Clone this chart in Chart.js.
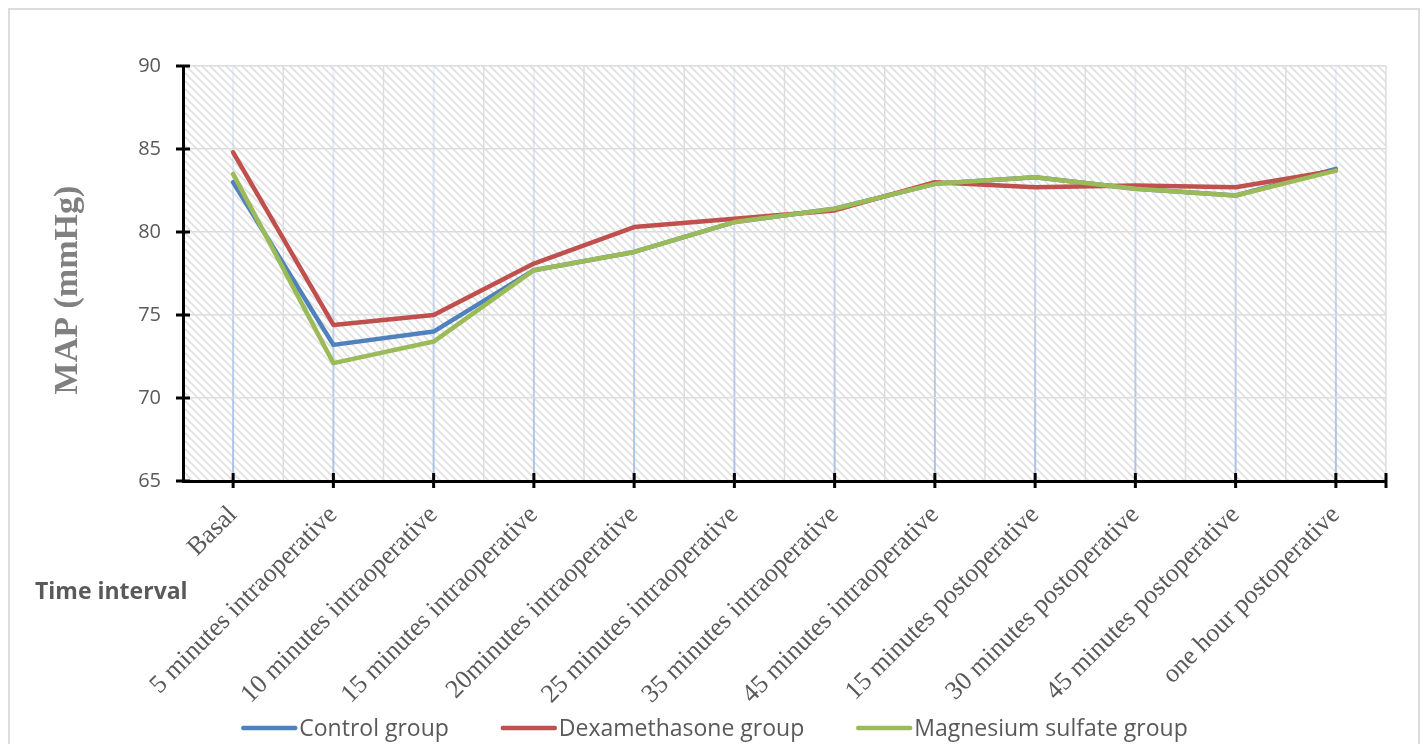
<!DOCTYPE html>
<html>
<head>
<meta charset="utf-8">
<script src="https://cdn.jsdelivr.net/npm/chart.js@4"></script>
<style>
  html, body { margin: 0; padding: 0; background: #fff; overflow: hidden; }
  #wrap { position: relative; width: 1425px; height: 744px; overflow: hidden; }
  #frame { position: absolute; left: 8px; top: 8px; width: 1412px; height: 780px; border: 2px solid #dcdcdc; box-sizing: border-box; }
  #box { position: absolute; left: 0; top: 0; width: 1425px; height: 744px; }
</style>
</head>
<body>
<div id="wrap">
  <div id="frame"></div>
  <div id="box"><canvas id="c" width="1425" height="744"></canvas></div>
</div>
<script>
// Mean arterial pressure by time interval
const categories = [
  'Basal',
  '5 minutes intraoperative',
  '10 minutes intraoperative',
  '15 minutes intraoperative',
  '20minutes intraoperative',
  '25 minutes intraoperative',
  '35 minutes intraoperative',
  '45 minutes intraoperative',
  '15 minutes postoperative',
  '30 minutes postoperative',
  '45 minutes postoperative',
  'one hour postoperative'
];
const controlGroup = [83.0, 73.2, 74.0, 77.7, 78.8, 80.6, 81.4, 82.9, 83.3, 82.6, 82.2, 83.8];
const dexamethasoneGroup = [84.8, 74.4, 75.0, 78.1, 80.3, 80.8, 81.3, 83.0, 82.7, 82.8, 82.7, 83.7];
const magnesiumGroup = [83.5, 72.1, 73.4, 77.7, 78.8, 80.6, 81.4, 82.9, 83.3, 82.6, 82.2, 83.7];
const yMin = 65, yMax = 90, yStep = 5;

const seriesNames = ['Control group', 'Dexamethasone group', 'Magnesium sulfate group'];
const seriesColors = ['#4f81bd', '#c0504d', '#9bbb59'];
const yTitle = 'MAP (mmHg)';
const xTitle = 'Time interval';

// Diagonal hatch tile for the plot background
function hatchPattern(ctx) {
  const t = document.createElement('canvas');
  t.width = 8; t.height = 8;
  const g = t.getContext('2d');
  g.fillStyle = '#ffffff';
  g.fillRect(0, 0, 8, 8);
  g.strokeStyle = '#e0e0e0';
  g.lineWidth = 1.7;
  for (let k = -1; k <= 1; k++) {
    g.beginPath();
    g.moveTo(-1, 8 * k - 1);
    g.lineTo(9, 8 * k + 9);
    g.stroke();
  }
  return ctx.createPattern(t, 'repeat');
}

const plotDecor = {
  id: 'plotDecor',
  beforeDraw(chart) {
    const { ctx, chartArea: a, scales: { x } } = chart;
    ctx.save();
    ctx.fillStyle = hatchPattern(ctx);
    ctx.fillRect(a.left, a.top, a.right - a.left, a.bottom - a.top);
    // light grey separators between categories
    ctx.strokeStyle = '#dddddd';
    ctx.lineWidth = 1.5;
    for (let i = 0; i <= categories.length; i++) {
      const px = x.getPixelForValue(i - 0.5);
      ctx.beginPath();
      ctx.moveTo(px, a.top);
      ctx.lineTo(px, a.bottom);
      ctx.stroke();
    }
    // blue drop lines at each category, fading toward the top
    const grad = ctx.createLinearGradient(0, a.top, 0, a.bottom);
    grad.addColorStop(0, 'rgba(180,199,231,0.25)');
    grad.addColorStop(1, 'rgba(170,192,228,1)');
    ctx.strokeStyle = grad;
    ctx.lineWidth = 2;
    categories.forEach((_, i) => {
      const px = x.getPixelForValue(i);
      ctx.beginPath();
      ctx.moveTo(px, a.top);
      ctx.lineTo(px, a.bottom);
      ctx.stroke();
    });
    ctx.restore();
  },
  afterDraw(chart) {
    const { ctx, chartArea: a, scales: { x, y } } = chart;
    ctx.save();
    ctx.strokeStyle = '#000';
    ctx.lineWidth = 3;
    // crossing tick marks on the value axis
    for (let v = yMin; v <= yMax; v += yStep) {
      const py = y.getPixelForValue(v);
      ctx.beginPath();
      ctx.moveTo(a.left - 7, py);
      ctx.lineTo(a.left + 7, py);
      ctx.stroke();
    }
    // crossing tick marks on the category axis
    const xs = categories.map((_, i) => x.getPixelForValue(i));
    xs.push(x.getPixelForValue(categories.length - 0.5));
    xs.forEach(px => {
      ctx.beginPath();
      ctx.moveTo(px, a.bottom - 8);
      ctx.lineTo(px, a.bottom + 7);
      ctx.stroke();
    });

    // value axis title
    ctx.save();
    ctx.translate(68, y.getPixelForValue(yMin + (yMax - yMin) * 0.46));
    ctx.rotate(-Math.PI / 2);
    ctx.fillStyle = '#808080';
    ctx.font = 'bold 34px "Liberation Serif"';
    ctx.textAlign = 'center';
    ctx.textBaseline = 'middle';
    ctx.fillText(yTitle, 0, 0);
    ctx.restore();

    // category axis caption
    ctx.fillStyle = '#595959';
    ctx.font = 'bold 23px "Open Sans"';
    ctx.textAlign = 'left';
    ctx.textBaseline = 'alphabetic';
    ctx.fillText(xTitle, 35, 599);

    // legend row along the bottom
    ctx.font = '23px "Open Sans"';
    ctx.textBaseline = 'middle';
    const lineLen = 56, textGap = 2, itemGap = 52, cy = 728;
    const items = chart.data.datasets.map(d => ({ text: d.label, color: d.borderColor }));
    const widths = items.map(it => lineLen + textGap + ctx.measureText(it.text).width);
    const total = widths.reduce((s, w) => s + w, 0) + itemGap * (items.length - 1);
    let cx = chart.width / 2 + 2 - total / 2;
    items.forEach((it, i) => {
      ctx.strokeStyle = it.color;
      ctx.lineWidth = 4.5;
      ctx.lineCap = 'round';
      ctx.beginPath();
      ctx.moveTo(cx + 2, cy);
      ctx.lineTo(cx + lineLen - 2, cy);
      ctx.stroke();
      ctx.fillStyle = '#595959';
      ctx.fillText(it.text, cx + lineLen + textGap, cy + 1);
      cx += widths[i] + itemGap;
    });
    ctx.restore();
  }
};

const values = [controlGroup, dexamethasoneGroup, magnesiumGroup];
const drawOrder = [2, 1, 0];

new Chart(document.getElementById('c'), {
  type: 'line',
  data: {
    labels: categories,
    datasets: values.map((d, i) => ({
      label: seriesNames[i],
      data: d,
      borderColor: seriesColors[i],
      backgroundColor: seriesColors[i],
      borderWidth: 4.5,
      pointRadius: 0,
      tension: 0,
      order: drawOrder[i],
      borderCapStyle: 'round',
      borderJoinStyle: 'round'
    }))
  },
  options: {
    responsive: false,
    animation: false,
    layout: { padding: { left: 0, right: 39, top: 66, bottom: 0 } },
    plugins: {
      tooltip: { enabled: false },
      legend: { display: false }
    },
    scales: {
      x: {
        type: 'category',
        offset: true,
        grid: { display: false },
        border: { display: true, color: '#000', width: 3 },
        ticks: {
          minRotation: 45,
          maxRotation: 45,
          autoSkip: false,
          padding: 11,
          color: '#595959',
          font: { family: '"Liberation Serif"', size: 26 }
        },
        afterFit(s) { s.height = 263; }
      },
      y: {
        min: yMin,
        max: yMax,
        ticks: {
          stepSize: yStep,
          padding: 22,
          color: '#595959',
          font: { family: '"Open Sans"', size: 20 }
        },
        grid: { color: '#dddddd', lineWidth: 1.5, drawTicks: false },
        border: { display: true, color: '#000', width: 3 },
        afterFit(s) { s.width = 183; }
      }
    }
  },
  plugins: [plotDecor]
});
</script>
</body>
</html>
